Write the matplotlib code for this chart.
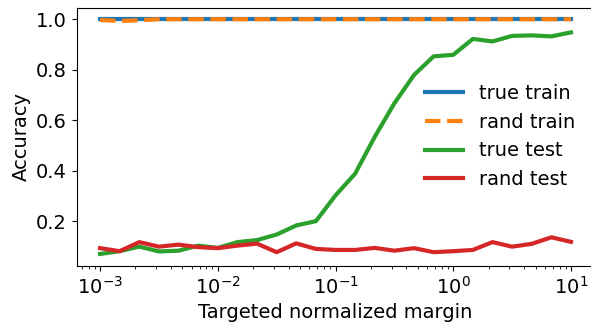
import numpy as np
import matplotlib
matplotlib.use("Agg")
import matplotlib.pyplot as plt

# Targeted normalized margins (log-spaced, 6 per decade)
margins = np.logspace(-3, 1, 25)

true_train = [1.0] * 25
rand_train = [0.997, 0.993, 0.996] + [1.0] * 22
true_test = [0.070, 0.081, 0.099, 0.080, 0.083, 0.103, 0.094, 0.117, 0.125,
             0.147, 0.183, 0.200, 0.302, 0.388, 0.534, 0.667, 0.779, 0.853,
             0.859, 0.922, 0.912, 0.934, 0.936, 0.932, 0.948]
rand_test = [0.093, 0.081, 0.117, 0.099, 0.107, 0.097, 0.093, 0.103, 0.111,
             0.077, 0.112, 0.090, 0.086, 0.086, 0.094, 0.083, 0.093, 0.077,
             0.081, 0.086, 0.117, 0.099, 0.110, 0.136, 0.118]

W, H = 591, 322
fig = plt.figure(figsize=(W / 100, H / 100), dpi=100)
ax = fig.add_axes([76.5 / W, 56.3 / H, (594.5 - 76.5) / W, (314.5 - 56.3) / H])

lw = 3
ax.plot(margins, true_train, color="#1f77b4", lw=lw, label="true train")
ax.plot(margins, rand_train, color="#ff7f0e", lw=lw, ls="--", label="rand train")
ax.plot(margins, true_test, color="#2ca02c", lw=lw, label="true test")
ax.plot(margins, rand_test, color="#d62728", lw=lw, label="rand test")

ax.set_xscale("log")
ax.set_xlabel("Targeted normalized margin", fontsize=14)
ax.set_ylabel("Accuracy", fontsize=14)
ax.set_yticks([0.2, 0.4, 0.6, 0.8, 1.0])
ax.tick_params(labelsize=14)

ax.legend(loc="center left", bbox_to_anchor=(0.657, 0.5), borderaxespad=0,
          frameon=False, fontsize=14)

fig.savefig("out.png", dpi=100)
